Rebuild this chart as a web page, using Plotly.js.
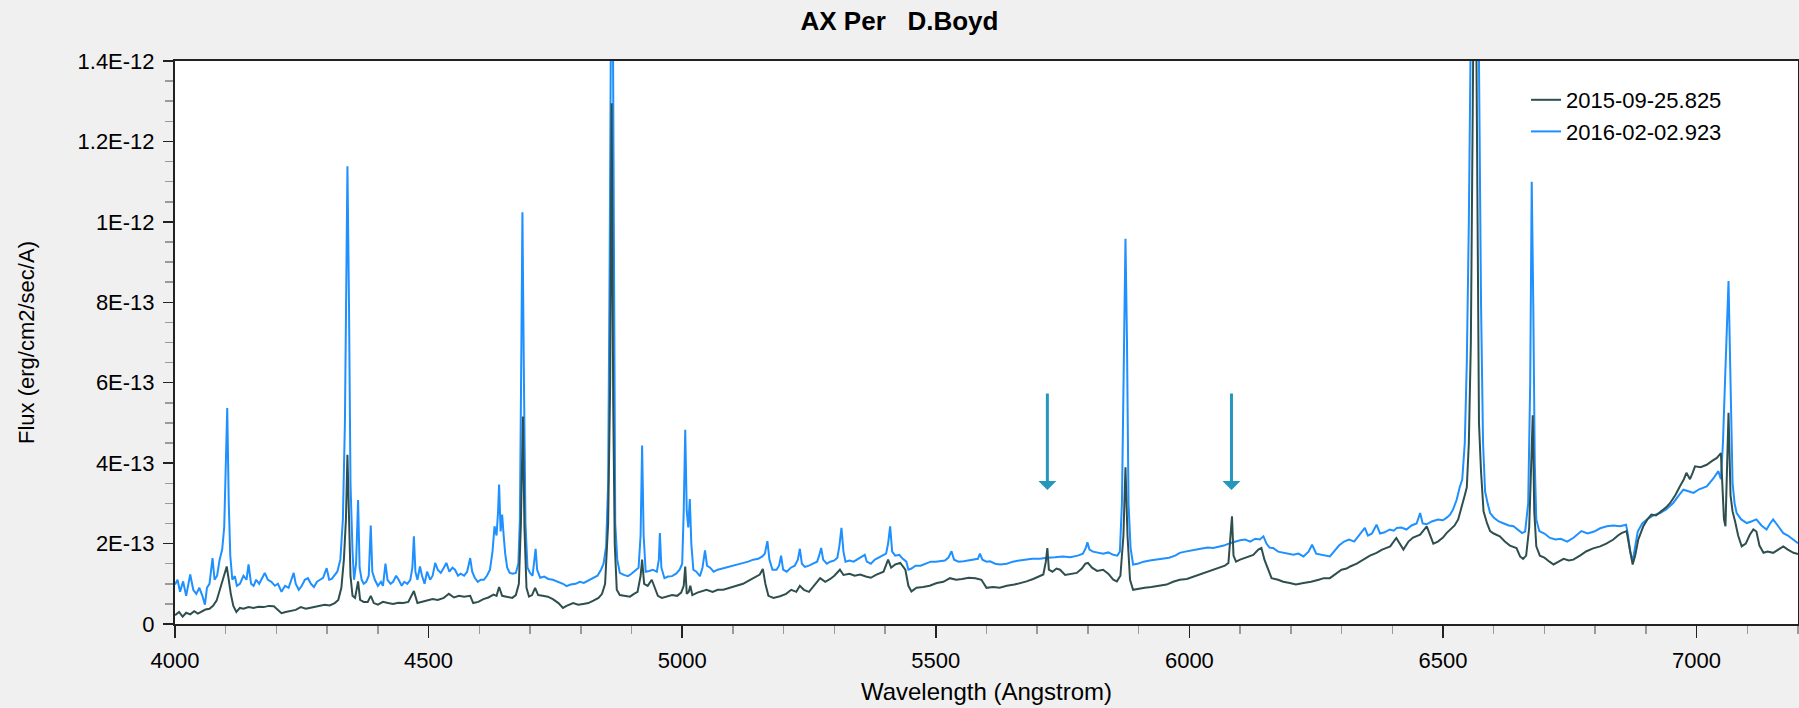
<!DOCTYPE html>
<html>
<head>
<meta charset="utf-8">
<script src="https://cdn.plot.ly/plotly-3.0.1.min.js"></script>
<style>
html,body{margin:0;padding:0;background:#f0f0f0;}
#chart{width:1799px;height:708px;}
</style>
</head>
<body>
<div id="chart"></div>
<script>
// Series names
const seriesNames = ["2015-09-25.825", "2016-02-02.923"];

// Flux values are in units of 1E-13 erg/cm2/sec/A
const wl2015 = [4000,4008,4015,4022,4030,4038,4045,4052,4060,4068,4075,4082,4090,4096,4102,4106,4110,4115,4121,4128,4135,4145,4155,4165,4175,4185,4195,4203,4210,4218,4228,4238,4248,4258,4265,4275,4285,4295,4305,4315,4322,4328,4333,4337,4340,4343,4346,4350,4355,4361,4365,4372,4380,4386,4392,4400,4410,4420,4430,4440,4450,4460,4471,4478,4488,4498,4508,4518,4530,4540,4550,4560,4570,4582,4588,4598,4608,4618,4628,4634,4639,4645,4655,4665,4672,4678,4682,4686,4689,4693,4698,4704,4710,4716,4725,4735,4745,4756,4765,4772,4785,4795,4805,4815,4825,4835,4842,4848,4854,4858,4861,4864,4867,4871,4877,4887,4897,4905,4912,4918,4921,4925,4932,4940,4946,4952,4960,4970,4980,4990,4998,5003,5006,5009,5013,5016,5020,5030,5040,5048,5060,5070,5081,5095,5108,5120,5134,5145,5153,5159,5164,5170,5180,5193,5205,5215,5225,5232,5240,5250,5262,5272,5282,5292,5300,5311,5318,5330,5340,5351,5362,5372,5382,5390,5397,5406,5412,5420,5430,5440,5446,5452,5462,5475,5488,5502,5515,5528,5540,5552,5565,5578,5590,5600,5613,5626,5640,5655,5668,5679,5692,5705,5712,5717,5720,5723,5730,5738,5745,5755,5765,5778,5788,5795,5800,5808,5818,5830,5840,5850,5857,5864,5870,5874,5878,5883,5889,5900,5912,5925,5940,5955,5968,5981,5995,6008,6020,6033,6047,6060,6070,6077,6081,6084,6087,6092,6100,6112,6126,6136,6142,6148,6155,6162,6175,6185,6198,6210,6225,6240,6255,6265,6277,6290,6300,6310,6317,6330,6343,6356,6369,6380,6390,6396,6408,6415,6422,6432,6441,6455,6462,6468,6475,6481,6490,6500,6507,6515,6523,6530,6537,6543,6547,6551,6555,6559,6562,6565,6568,6571,6575,6580,6587,6593,6600,6612,6622,6632,6645,6652,6658,6664,6670,6674,6677,6680,6684,6691,6700,6710,6718,6728,6738,6748,6757,6770,6783,6796,6810,6822,6836,6845,6852,6862,6866,6870,6874,6879,6885,6895,6903,6911,6920,6930,6940,6948,6958,6967,6975,6980,6987,6992,6997,7008,7020,7030,7040,7048,7051,7054,7057,7060,7063,7067,7071,7076,7082,7089,7097,7105,7112,7118,7124,7132,7140,7151,7160,7171,7180,7191,7200];
const flux2015 = [0.22,0.30,0.18,0.28,0.24,0.32,0.26,0.30,0.36,0.38,0.45,0.58,0.90,1.15,1.43,1.10,0.75,0.45,0.30,0.40,0.38,0.42,0.40,0.43,0.42,0.45,0.44,0.35,0.27,0.30,0.33,0.35,0.42,0.38,0.40,0.43,0.45,0.48,0.46,0.52,0.60,0.90,1.60,2.60,4.21,2.40,1.20,0.70,0.65,1.06,0.60,0.55,0.55,0.70,0.52,0.48,0.55,0.52,0.50,0.53,0.52,0.55,0.82,0.52,0.55,0.58,0.62,0.60,0.65,0.75,0.66,0.70,0.68,0.70,0.52,0.55,0.62,0.66,0.73,0.70,0.92,0.70,0.68,0.65,0.72,1.00,2.50,5.16,2.40,0.90,0.68,0.72,0.90,0.72,0.70,0.68,0.62,0.52,0.40,0.45,0.52,0.48,0.50,0.52,0.58,0.65,0.75,1.00,2.50,6.00,12.95,5.50,2.00,0.85,0.72,0.70,0.68,0.75,0.80,1.20,1.60,1.00,0.95,1.10,0.90,0.70,0.65,0.68,0.72,0.70,0.78,0.95,1.43,0.75,0.80,0.95,0.72,0.78,0.82,0.85,0.80,0.85,0.85,0.90,0.95,1.00,1.10,1.18,1.23,1.37,1.00,0.70,0.65,0.69,0.75,0.85,0.80,0.95,0.85,0.80,1.00,1.14,1.05,1.12,1.20,1.35,1.22,1.25,1.20,1.23,1.18,1.15,1.22,1.27,1.30,1.60,1.40,1.48,1.52,1.35,0.95,0.81,0.90,0.92,0.95,1.02,1.05,1.14,1.10,1.12,1.15,1.14,1.10,0.90,0.92,0.90,0.95,0.98,1.02,1.06,1.12,1.20,1.23,1.55,1.89,1.35,1.30,1.38,1.35,1.22,1.25,1.27,1.38,1.50,1.52,1.40,1.32,1.35,1.25,1.10,1.06,1.20,2.20,3.90,2.20,1.10,0.85,0.88,0.90,0.92,0.95,0.98,1.05,1.10,1.12,1.18,1.22,1.28,1.35,1.40,1.45,1.52,2.20,2.68,1.70,1.55,1.60,1.65,1.72,1.85,1.89,1.60,1.35,1.14,1.10,1.05,1.02,0.98,1.02,1.05,1.10,1.14,1.14,1.25,1.35,1.38,1.43,1.50,1.60,1.70,1.77,1.85,1.90,1.93,2.14,2.00,1.85,2.05,2.15,2.22,2.35,2.43,2.20,2.00,2.05,2.15,2.26,2.35,2.45,2.60,2.90,3.20,3.40,4.50,7.00,14.00,18.00,16.00,9.00,5.00,3.80,2.80,2.50,2.31,2.25,2.18,2.05,1.95,1.89,1.68,1.62,1.70,2.40,3.80,5.19,2.80,1.93,1.70,1.65,1.55,1.48,1.55,1.62,1.58,1.60,1.70,1.81,1.88,1.93,2.00,2.10,2.20,2.26,2.31,2.00,1.70,1.48,1.70,2.10,2.43,2.60,2.72,2.70,2.80,2.90,3.01,3.20,3.42,3.60,3.76,3.60,3.75,3.92,3.90,3.96,4.05,4.13,4.25,3.20,2.60,2.43,3.80,5.25,3.20,2.80,2.55,2.20,1.93,2.00,2.22,2.35,2.30,1.95,1.77,1.80,1.77,1.85,1.93,1.85,1.77,1.74];

const wl2016 = [4000,4005,4010,4016,4022,4030,4036,4042,4048,4054,4059,4063,4068,4074,4078,4083,4088,4093,4097,4100,4103,4106,4109,4113,4118,4122,4128,4135,4141,4145,4150,4155,4160,4166,4172,4177,4183,4190,4197,4203,4210,4217,4224,4230,4234,4238,4244,4250,4256,4262,4268,4274,4280,4286,4292,4299,4304,4309,4314,4320,4326,4331,4335,4338,4340,4343,4346,4350,4353,4357,4361,4364,4368,4372,4377,4382,4386,4389,4394,4400,4406,4410,4415,4419,4425,4430,4436,4441,4447,4452,4458,4464,4468,4471,4474,4478,4483,4487,4492,4497,4503,4508,4513,4518,4524,4530,4535,4541,4547,4552,4558,4563,4570,4576,4582,4586,4591,4597,4603,4609,4615,4621,4626,4630,4634,4637,4639,4642,4645,4648,4651,4655,4660,4666,4672,4677,4680,4683,4685,4688,4691,4695,4700,4705,4708,4711,4714,4720,4728,4736,4745,4755,4765,4772,4780,4790,4798,4806,4815,4825,4833,4840,4845,4850,4854,4857,4860,4863,4866,4868,4872,4877,4885,4893,4900,4908,4914,4918,4921,4924,4928,4935,4942,4950,4954,4956,4959,4965,4972,4980,4988,4995,5000,5003,5006,5009,5012,5015,5018,5022,5028,5035,5040,5045,5049,5055,5062,5070,5080,5090,5100,5110,5121,5130,5140,5150,5158,5163,5168,5172,5178,5186,5191,5195,5199,5206,5214,5222,5228,5232,5236,5242,5250,5258,5266,5270,5274,5278,5285,5292,5300,5306,5310,5314,5318,5322,5330,5338,5345,5352,5360,5364,5372,5380,5388,5395,5402,5406,5410,5414,5420,5428,5435,5442,5446,5452,5460,5470,5480,5490,5500,5510,5518,5525,5531,5536,5545,5555,5565,5575,5583,5587,5592,5600,5607,5617,5627,5640,5652,5665,5678,5690,5705,5720,5735,5751,5765,5780,5790,5796,5799,5803,5810,5820,5830,5840,5850,5858,5863,5867,5871,5874,5877,5880,5884,5889,5898,5910,5922,5935,5948,5960,5972,5981,5992,6003,6014,6025,6036,6047,6058,6068,6080,6090,6100,6110,6120,6130,6139,6146,6152,6158,6165,6175,6185,6195,6205,6215,6225,6235,6242,6250,6260,6270,6277,6285,6295,6305,6315,6325,6335,6346,6352,6360,6369,6376,6385,6395,6403,6409,6418,6428,6438,6448,6455,6460,6468,6478,6490,6500,6508,6514,6520,6527,6533,6538,6543,6547,6551,6555,6559,6563,6567,6571,6575,6579,6583,6588,6593,6600,6610,6620,6630,6639,6648,6656,6662,6668,6672,6675,6678,6681,6684,6690,6700,6711,6722,6732,6745,6758,6773,6785,6798,6810,6823,6836,6849,6861,6865,6869,6874,6878,6884,6893,6902,6915,6928,6940,6954,6965,6974,6984,6994,7005,7020,7032,7043,7048,7052,7056,7060,7063,7067,7071,7075,7079,7088,7099,7108,7118,7128,7138,7145,7151,7160,7171,7180,7191,7200];
const flux2016 = [0.98,1.10,0.80,1.06,0.70,1.23,0.85,0.75,0.90,0.70,0.48,0.90,1.00,1.64,1.10,1.20,1.60,1.85,2.40,3.80,5.37,3.00,1.70,1.10,1.19,0.95,1.00,1.20,1.10,1.48,1.00,0.95,1.10,1.00,1.15,1.27,1.10,1.05,0.95,1.00,0.80,0.95,0.90,1.10,1.27,1.00,0.85,0.95,1.10,1.14,1.00,0.92,1.05,1.10,1.15,1.39,1.10,1.12,1.20,1.30,1.60,2.60,5.00,9.50,11.38,8.00,3.50,1.80,1.10,1.50,3.08,1.40,1.10,1.00,1.05,1.20,2.45,1.30,1.10,0.95,1.05,0.95,1.50,1.10,1.00,1.05,1.20,1.10,0.95,1.05,1.00,1.10,1.40,2.18,1.30,1.10,1.43,1.20,1.00,1.30,1.10,1.20,1.52,1.35,1.27,1.40,1.52,1.30,1.40,1.35,1.20,1.25,1.20,1.30,1.64,1.30,1.15,1.05,1.10,1.10,1.20,1.35,1.80,2.43,2.20,2.80,3.47,2.30,2.72,2.20,1.75,1.40,1.27,1.25,1.27,1.50,2.60,7.00,10.24,6.00,2.50,1.40,1.27,1.20,1.50,1.87,1.35,1.15,1.18,1.12,1.10,1.05,1.00,0.94,0.98,1.00,1.05,1.02,1.08,1.15,1.20,1.35,1.50,1.93,3.50,9.00,16.00,16.00,6.00,2.50,1.60,1.27,1.22,1.19,1.25,1.35,1.40,2.20,4.44,2.20,1.30,1.32,1.35,1.30,1.60,2.26,1.40,1.14,1.18,1.19,1.25,1.35,1.50,2.80,4.83,2.80,2.40,3.11,2.00,1.35,1.30,1.19,1.40,1.83,1.45,1.40,1.30,1.35,1.38,1.42,1.45,1.48,1.52,1.55,1.60,1.62,1.68,1.75,2.06,1.60,1.35,1.35,1.45,1.70,1.35,1.30,1.40,1.45,1.60,1.87,1.50,1.42,1.45,1.50,1.55,1.70,1.89,1.60,1.50,1.55,1.58,1.65,1.95,2.39,1.80,1.55,1.58,1.55,1.60,1.65,1.72,1.55,1.50,1.60,1.65,1.70,1.75,2.00,2.43,1.80,1.70,1.72,1.62,1.55,1.35,1.38,1.45,1.45,1.50,1.55,1.55,1.56,1.58,1.65,1.81,1.60,1.55,1.56,1.58,1.60,1.62,1.75,1.60,1.55,1.56,1.50,1.48,1.50,1.55,1.58,1.60,1.62,1.62,1.65,1.66,1.68,1.66,1.70,1.75,1.90,2.03,1.85,1.80,1.78,1.75,1.78,1.72,1.70,1.80,3.00,6.50,9.58,7.00,3.00,1.90,1.48,1.50,1.55,1.58,1.60,1.62,1.65,1.70,1.77,1.80,1.82,1.85,1.88,1.90,1.89,1.92,1.95,2.01,2.05,2.08,2.10,2.05,2.12,2.10,2.18,2.00,1.90,1.89,1.80,1.77,1.75,1.72,1.75,1.68,1.80,1.97,1.75,1.72,1.70,1.68,1.80,1.95,2.05,2.10,2.05,2.20,2.39,2.20,2.25,2.47,2.25,2.28,2.35,2.32,2.39,2.40,2.35,2.45,2.50,2.76,2.50,2.48,2.55,2.60,2.58,2.65,2.72,2.85,3.09,3.40,3.59,4.50,6.50,10.00,15.00,22.00,25.00,22.00,14.00,8.00,4.50,3.30,3.00,2.76,2.65,2.55,2.50,2.45,2.43,2.35,2.26,2.30,3.00,6.00,11.00,8.00,4.00,2.60,2.31,2.25,2.14,2.10,2.12,2.05,2.15,2.31,2.25,2.30,2.38,2.43,2.45,2.43,2.47,2.20,1.80,1.56,1.90,2.30,2.50,2.60,2.70,2.76,2.85,3.01,3.20,3.34,3.30,3.26,3.35,3.42,3.60,3.80,3.60,4.50,6.00,7.50,8.53,6.00,3.50,3.00,2.76,2.60,2.51,2.55,2.60,2.45,2.35,2.50,2.60,2.45,2.26,2.20,2.10,2.01];

// Axis ticks
const xTickVals = [4000, 4500, 5000, 5500, 6000, 6500, 7000];
const yTickVals = [0, 2, 4, 6, 8, 10, 12, 14];
const yTickText = ["0", "2E-13", "4E-13", "6E-13", "8E-13", "1E-12", "1.2E-12", "1.4E-12"];

// Marked features (arrows): wavelength, arrow tail flux, arrow tip flux
const markWl = [5720, 6083];
const markTail = [5.77, 5.77];
const markTip = [3.33, 3.33];

const FONT = "Liberation Sans, Arial, sans-serif";
const arrowColor = "#2398bc";

const traces = [
  {x: wl2016, y: flux2016, name: seriesNames[1], type: "scatter", mode: "lines",
   line: {color: "#1e90ff", width: 2}},
  {x: wl2015, y: flux2015, name: seriesNames[0], type: "scatter", mode: "lines",
   line: {color: "#2f4f4f", width: 2}}
];

const annotations = markWl.map((w, i) => ({
  x: w, y: markTip[i], ax: w, ay: markTail[i],
  xref: "x", yref: "y", axref: "x", ayref: "y",
  text: "", showarrow: true, arrowhead: 1, arrowsize: 1, arrowwidth: 3,
  arrowcolor: arrowColor, standoff: 0
}));

const layout = {
  width: 1799, height: 708,
  paper_bgcolor: "#f0f0f0", plot_bgcolor: "#ffffff",
  margin: {l: 175, r: 1, t: 61, b: 84},
  font: {family: FONT, color: "#000", size: 22},
  title: {text: "AX Per   D.Boyd", font: {family: FONT, size: 26, color: "#000", weight: "bold"},
          x: 0.5, xref: "container", xanchor: "center", y: 1 - 21/708, yref: "container", yanchor: "middle"},
  showlegend: true,
  legend: {x: (1526-175)/1623, xanchor: "left", y: (624-79)/563, yanchor: "top",
           bgcolor: "rgba(0,0,0,0)", borderwidth: 0, traceorder: "reversed",
           font: {family: FONT, size: 22, color: "#000"}, tracegroupgap: 0},
  xaxis: {
    range: [4000, 7200], autorange: false,
    tickmode: "array", tickvals: xTickVals,
    ticks: "outside", ticklen: 12, tickwidth: 1.5, tickcolor: "#222",
    minor: {dtick: 100, tick0: 4000, ticks: "outside", ticklen: 8, tickwidth: 1.5, tickcolor: "#9a9a9a", showgrid: false},
    showline: true, linecolor: "#222", linewidth: 2, mirror: true,
    showgrid: false, zeroline: false,
    tickfont: {family: FONT, size: 22, color: "#000"},
    ticklabelstandoff: 4,
    title: {text: "Wavelength (Angstrom)", font: {family: FONT, size: 24, color: "#000"}, standoff: 11}
  },
  yaxis: {
    range: [0, 14], autorange: false,
    tickmode: "array", tickvals: yTickVals, ticktext: yTickText,
    ticks: "outside", ticklen: 10, tickwidth: 1.5, tickcolor: "#222",
    minor: {dtick: 0.5, tick0: 0, ticks: "outside", ticklen: 8, tickwidth: 1.5, tickcolor: "#9a9a9a", showgrid: false},
    showline: true, linecolor: "#222", linewidth: 2, mirror: true,
    showgrid: false, zeroline: false,
    tickfont: {family: FONT, size: 22, color: "#000"},
    ticklabelstandoff: 4,
    title: {text: "Flux (erg/cm2/sec/A)", font: {family: FONT, size: 22, color: "#000"}, standoff: 37}
  },
  annotations: annotations
};

Plotly.newPlot("chart", traces, layout, {displayModeBar: false, staticPlot: true});
</script>
</body>
</html>
